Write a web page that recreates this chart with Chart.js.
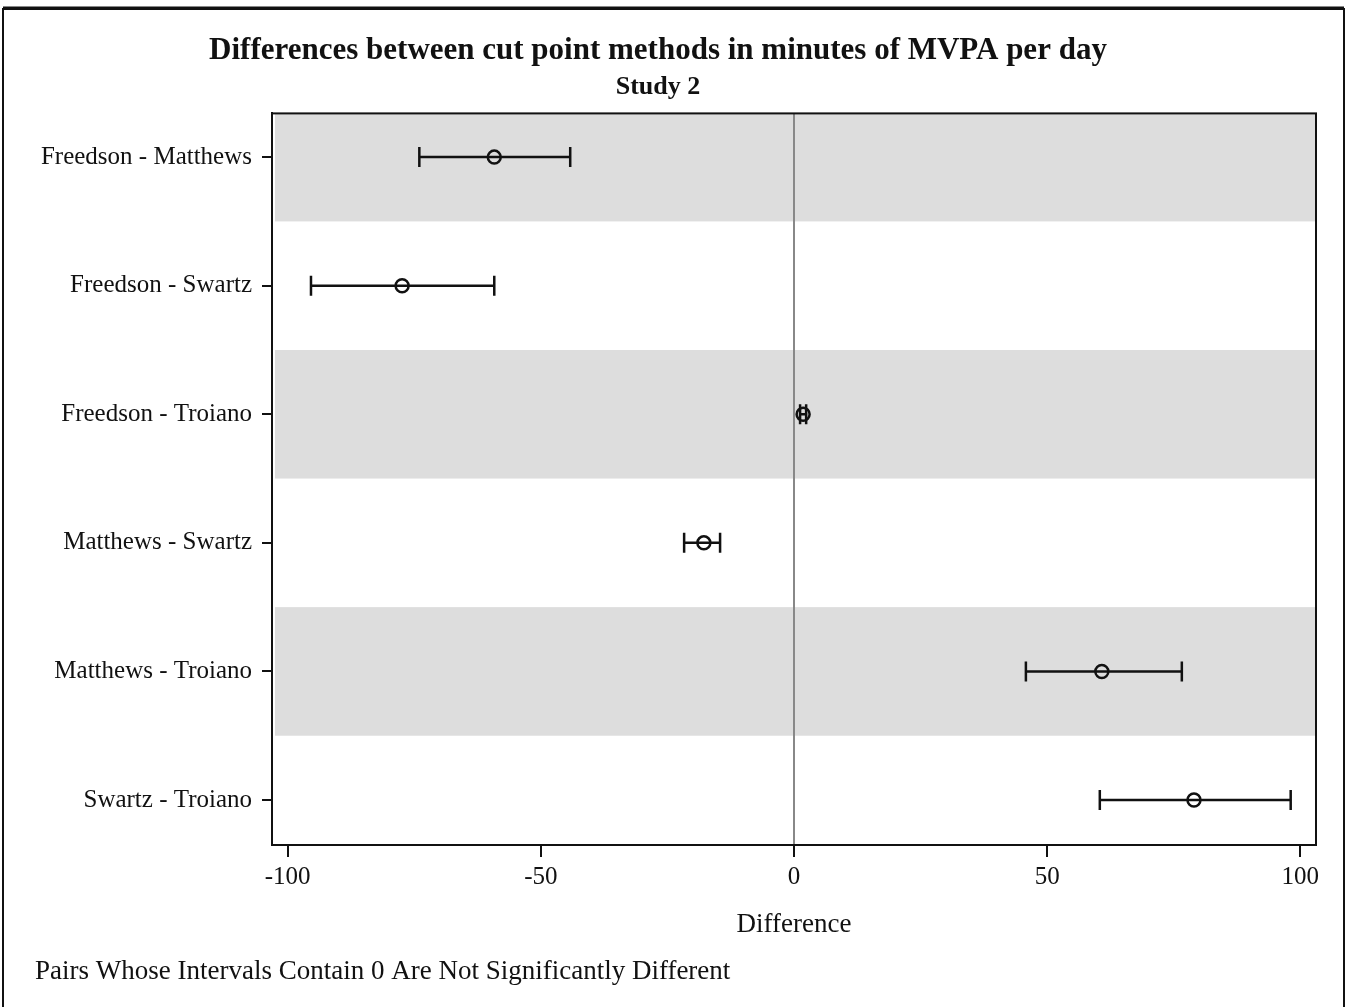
<!DOCTYPE html>
<html>
<head>
<meta charset="utf-8">
<script src="https://cdn.jsdelivr.net/npm/chart.js@4/dist/chart.umd.min.js"></script>
<style>
  html, body { margin: 0; padding: 0; background: #fff; }
  canvas { display: block; }
</style>
</head>
<body>
<canvas id="diff-chart" width="1349" height="1007"></canvas>
<script>
// pairwise differences (minutes of MVPA per day), with interval bounds
const pairs = ['Freedson - Matthews', 'Freedson - Swartz', 'Freedson - Troiano',
               'Matthews - Swartz', 'Matthews - Troiano', 'Swartz - Troiano'];
const means = [-59.2, -77.4, 1.8, -17.8, 60.8, 79.0];
const lowers = [-74.0, -95.4, 1.2, -21.7, 45.8, 60.4];
const uppers = [-44.2, -59.2, 2.4, -14.6, 76.6, 98.1];
const xTicks = [-100, -50, 0, 50, 100];

const serif = '"Liberation Serif", "Times New Roman", serif';

// grey bands behind every other row
const bandsPlugin = {
  id: 'bands',
  beforeDraw(chart) {
    const {ctx, chartArea, scales} = chart;
    ctx.save();
    ctx.beginPath();
    ctx.rect(chartArea.left, chartArea.top, chartArea.right - chartArea.left, chartArea.bottom - chartArea.top);
    ctx.clip();
    ctx.fillStyle = '#dddddd';
    pairs.forEach((p, i) => {
      if (i % 2) return;
      const y1 = scales.y.getPixelForValue(i - 0.5);
      const y2 = scales.y.getPixelForValue(i + 0.5);
      ctx.fillRect(chartArea.left + 3, Math.min(y1, y2), chartArea.right - chartArea.left - 3, Math.abs(y2 - y1));
    });
    ctx.restore();
  }
};

// interval lines with end caps
const errorBarsPlugin = {
  id: 'errorBars',
  beforeDatasetsDraw(chart) {
    const {ctx, scales} = chart;
    ctx.save();
    ctx.strokeStyle = '#111';
    ctx.lineWidth = 2.5;
    pairs.forEach((p, i) => {
      const y = scales.y.getPixelForValue(i);
      const x1 = scales.x.getPixelForValue(lowers[i]);
      const x2 = scales.x.getPixelForValue(uppers[i]);
      ctx.beginPath();
      ctx.moveTo(x1, y); ctx.lineTo(x2, y);
      ctx.moveTo(x1, y - 10); ctx.lineTo(x1, y + 10);
      ctx.moveTo(x2, y - 10); ctx.lineTo(x2, y + 10);
      ctx.stroke();
    });
    ctx.restore();
  }
};

// plot frame, outer frame and footnote
const framePlugin = {
  id: 'frame',
  afterDraw(chart) {
    const {ctx, chartArea} = chart;
    ctx.save();
    ctx.strokeStyle = '#111';
    ctx.lineWidth = 2;
    ctx.strokeRect(chartArea.left, chartArea.top, chartArea.right - chartArea.left, chartArea.bottom - chartArea.top);
    ctx.strokeRect(3, 9, 1341, 1010);
    ctx.lineWidth = 3;
    ctx.beginPath(); ctx.moveTo(3, 8); ctx.lineTo(1344, 8); ctx.stroke();
    ctx.fillStyle = '#111';
    ctx.font = '27px ' + serif;
    ctx.textBaseline = 'middle';
    ctx.textAlign = 'left';
    ctx.fillText('Pairs Whose Intervals Contain 0 Are Not Significantly Different', 35, 972);
    ctx.restore();
  }
};

const chart = new Chart(document.getElementById('diff-chart'), {
  type: 'scatter',
  data: {
    datasets: [{
      data: means.map((m, i) => ({x: m, y: i})),
      pointStyle: 'circle',
      pointRadius: 6.5,
      pointHoverRadius: 6.5,
      borderColor: '#111',
      borderWidth: 2.5,
      backgroundColor: 'rgba(0,0,0,0)'
    }]
  },
  options: {
    responsive: false,
    devicePixelRatio: 1,
    animation: false,
    layout: { padding: { top: 0, right: 33, bottom: 0, left: 0 } },
    plugins: {
      legend: { display: false },
      tooltip: { enabled: false },
      title: {
        display: true,
        text: 'Differences between cut point methods in minutes of MVPA per day',
        color: '#111',
        font: { family: serif, size: 31, weight: 'bold', lineHeight: 1.2 },
        padding: { top: 32, bottom: 0 }
      },
      subtitle: {
        display: true,
        text: 'Study 2',
        color: '#111',
        font: { family: serif, size: 26, weight: 'bold', lineHeight: 1.2 },
        padding: { top: 2, bottom: 11 }
      }
    },
    scales: {
      x: {
        type: 'linear',
        min: -103.1,
        max: 103.1,
        afterBuildTicks: (scale) => { scale.ticks = xTicks.map(v => ({value: v})); },
        afterFit: (scale) => { scale.height = 162; },
        ticks: { color: '#111', font: { family: serif, size: 25 }, padding: 5, maxRotation: 0 },
        grid: {
          drawOnChartArea: true,
          color: (c) => (c.tick && c.tick.value === 0) ? '#888888' : 'rgba(0,0,0,0)',
          lineWidth: 2,
          tickColor: '#111',
          tickLength: 12
        },
        border: { display: true, color: '#111', width: 2 },
        title: {
          display: true,
          text: 'Difference',
          color: '#111',
          font: { family: serif, size: 27, lineHeight: 1.2 },
          padding: { top: 0, bottom: 66 }
        }
      },
      y: {
        type: 'linear',
        reverse: true,
        min: -0.34,
        max: 5.35,
        afterBuildTicks: (scale) => { scale.ticks = pairs.map((p, i) => ({value: i})); },
        afterFit: (scale) => { scale.width = 272; },
        ticks: {
          color: '#111',
          font: { family: serif, size: 25 },
          padding: 10,
          callback: (v) => pairs[v]
        },
        grid: { drawOnChartArea: false, tickColor: '#111', tickLength: 10, lineWidth: 2 },
        border: { display: true, color: '#111', width: 2 }
      }
    }
  },
  plugins: [bandsPlugin, errorBarsPlugin, framePlugin]
});
</script>
</body>
</html>
